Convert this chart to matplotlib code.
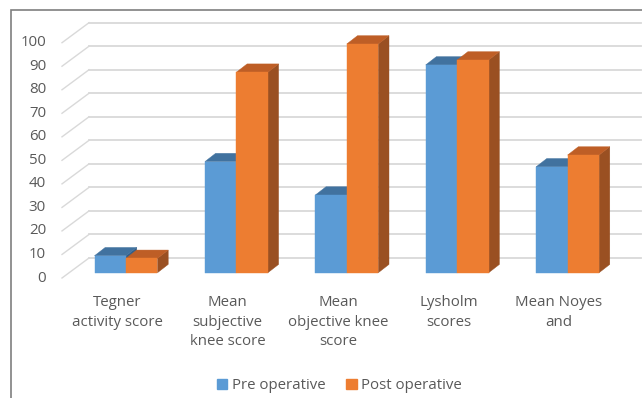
import matplotlib
matplotlib.use("Agg")
import matplotlib.pyplot as plt
from matplotlib.patches import Polygon, Rectangle, Patch

# scores before and after surgery
categories = ["Tegner\nactivity score", "Mean\nsubjective\nknee score",
              "Mean\nobjective knee\nscore", "Lysholm\nscores", "Mean Noyes\nand"]
pre_op = [7.2, 47.2, 33.0, 88.3, 45.0]
post_op = [6.1, 85.2, 97.2, 90.4, 50.0]
series_names = ["Pre operative", "Post operative"]
y_ticks = list(range(0, 101, 10))

# colours: front, top, side
blue = ("#5B9BD5", "#41729F", "#345F88")
orange = ("#ED7D31", "#BE5E26", "#9A5022")
text_col = "#595959"
grid_col = "#D9D9D9"

W, H = 642, 398
# pixel layout of the pseudo-3d plot
X0 = 62.0      # front-left corner of floor
SLOT = 110.4   # width of one category
Y0 = 278.0     # front zero line
PPU = 2.353    # pixels per value unit

def px_x(p):
    return p / SLOT

def px_y(p):
    return p / PPU

wall_dx, wall_dy = px_x(27), px_y(20)     # floor depth
front_dx, front_dy = px_x(8.8), px_y(5.3)  # offset of bar front plane
bar_dx, bar_dy = px_x(10.7), px_y(8.3)    # bar depth
gap = 0.2147
bw = (1 - 2 * gap) / 2

plt.rcParams['font.family'] = ['Open Sans', 'DejaVu Sans']
fs = 10.8

fig = plt.figure(figsize=(W / 100, H / 100), dpi=100)
ax = fig.add_axes([0, 0, 1, 1])
ax.set_xlim(-X0 / SLOT, (W - X0) / SLOT)
ax.set_ylim((Y0 - H) / PPU, Y0 / PPU)
ax.axis("off")

n = len(categories)

# gridlines: diagonal on the floor side, then along the back wall
for v in y_ticks:
    ax.plot([0, wall_dx], [v, v + wall_dy], color=grid_col, lw=1.0, zorder=1)
    ax.plot([wall_dx, n + wall_dx], [v + wall_dy, v + wall_dy],
            color=grid_col, lw=1.3, zorder=1)
    ax.text(-px_x(16), v, str(v), ha="right", va="center",
            color=text_col, fontsize=fs)

def bar3d(x, v, cols, z):
    x = x + front_dx
    b = front_dy
    t = v + front_dy
    front = [(x, b), (x + bw, b), (x + bw, t), (x, t)]
    top = [(x, t), (x + bw, t), (x + bw + bar_dx, t + bar_dy), (x + bar_dx, t + bar_dy)]
    side = [(x + bw, b), (x + bw + bar_dx, b + bar_dy),
            (x + bw + bar_dx, t + bar_dy), (x + bw, t)]
    for pts, c in ((side, cols[2]), (top, cols[1]), (front, cols[0])):
        ax.add_patch(Polygon(pts, closed=True, facecolor=c, edgecolor=c,
                             lw=0.3, zorder=z))

z = 3
for i in range(n):
    bar3d(i + gap, pre_op[i], blue, z)
    bar3d(i + gap + bw, post_op[i], orange, z + 1)
    z += 2

for i, lab in enumerate(categories):
    ax.text(i + 0.5, (Y0 - 295) / PPU, lab, ha="center", va="top",
            color=text_col, fontsize=fs, linespacing=1.42)

handles = [Patch(color=blue[0]), Patch(color=orange[0])]
fig.legend(handles, series_names, loc="center",
           bbox_to_anchor=(339.5 / W, 1 - 385.7 / H), ncol=2, frameon=False,
           handlelength=0.7, handleheight=0.7, handletextpad=0.3,
           columnspacing=1.4, fontsize=fs, labelcolor=text_col)

# chart border
fig.add_artist(Rectangle((11.5 / W, -0.05), 1.2, (H - 10) / H + 0.05,
                         transform=fig.transFigure, fill=False,
                         edgecolor="#7F7F7F", lw=1.2))

fig.savefig("out.png", dpi=100)
